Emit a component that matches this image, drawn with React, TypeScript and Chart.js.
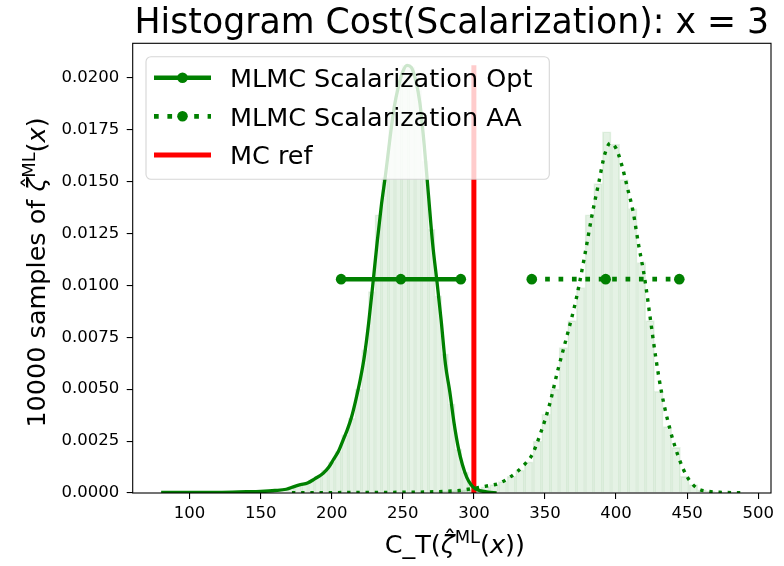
import React, { useEffect, useRef } from "react";
import { Chart, registerables } from "chart.js";

Chart.register(...registerables);

// ---------- data ----------
const TITLE = "Histogram Cost(Scalarization): x = 3";
const LEGEND_LABELS = ["MLMC Scalarization Opt", "MLMC Scalarization AA", "MC ref"];

const X_TICKS = [100, 150, 200, 250, 300, 350, 400, 450, 500];
const Y_TICKS = [0, 0.0025, 0.005, 0.0075, 0.01, 0.0125, 0.015, 0.0175, 0.02];

// Opt histogram (density), 50 bins
const OPT_BIN_START = 80;
const OPT_BIN_WIDTH = 4.7;
const OPT_HIST = [
  0.00002, 0, 0.00002, 0.00002, 0.00002, 0, 0.00002, 0, 0.00002, 0.00002,
  0.00004, 0.00002, 0.00004, 0.00006, 0.00009, 0.00006, 0.00011, 0.00013, 0.00017, 0.0003,
  0.0004, 0.00045, 0.00062, 0.0008, 0.0011, 0.0015, 0.002, 0.0028, 0.0036, 0.005,
  0.0069, 0.0097, 0.0134, 0.0152, 0.0184, 0.0199, 0.0206, 0.0205, 0.0194, 0.016,
  0.0127, 0.0095, 0.0067, 0.0043, 0.0021, 0.001, 0.0005, 0.0002, 0.00006, 0.00002,
];

// AA histogram (density), 50 bins
const AA_BIN_START = 183;
const AA_BIN_WIDTH = 6.1;
const AA_HIST = [
  0.00002, 0, 0.00002, 0, 0.00002, 0.00002, 0, 0.00002, 0.00002, 0.00003,
  0.00003, 0.00005, 0.00003, 0.00005, 0.00006, 0.00008, 0.0001, 0.00013, 0.00016, 0.0002,
  0.0003, 0.0004, 0.00055, 0.0008, 0.0011, 0.0015, 0.0025, 0.0038, 0.005, 0.007,
  0.0083, 0.0099, 0.0134, 0.0149, 0.0174, 0.0168, 0.0151, 0.0137, 0.0111, 0.0083,
  0.0049, 0.0032, 0.0022, 0.0008, 0.0004, 0.00015, 0.00008, 0.00004, 0.00002, 0.00002,
];

// KDE curves
const OPT_KDE_X = [80, 100, 120, 140, 150, 160, 168, 174, 178, 183, 188, 194, 198, 201, 205, 208, 211, 214, 217, 220, 223, 226, 229, 232, 235, 238, 241, 244, 247, 250, 253, 256, 259, 262, 265, 268, 271, 274, 277, 280, 283, 286, 289, 292, 295, 298, 301, 305, 310, 316];
const OPT_KDE_Y = [0.00003, 0.00003, 0.00003, 0.00006, 0.00008, 0.00012, 0.00018, 0.00032, 0.0004, 0.00048, 0.00068, 0.00095, 0.00125, 0.00159, 0.00205, 0.00255, 0.00305, 0.00367, 0.0045, 0.00544, 0.0066, 0.0082, 0.0101, 0.0121, 0.0139, 0.0154, 0.0171, 0.0186, 0.0196, 0.0203, 0.0206, 0.0205, 0.0199, 0.0188, 0.0168, 0.0144, 0.012, 0.0102, 0.0083, 0.0062, 0.0049, 0.0034, 0.0022, 0.00135, 0.00075, 0.0004, 0.0002, 0.0001, 0.00004, 0.00001];

const AA_KDE_X = [172, 200, 230, 260, 280, 290, 296, 302, 310, 318, 325, 330, 336, 341, 347, 353, 359, 366, 372, 378, 383, 388, 392, 396, 400, 404, 408, 412, 416, 420, 424, 428, 432, 438, 444, 450, 457, 465, 475, 489];
const AA_KDE_Y = [0.00002, 0.00002, 0.00003, 0.00004, 0.00008, 0.00012, 0.00018, 0.00025, 0.00035, 0.00047, 0.00075, 0.001, 0.0014, 0.00185, 0.0029, 0.0042, 0.0059, 0.0077, 0.00935, 0.01145, 0.01335, 0.015, 0.0163, 0.01685, 0.0166, 0.0158, 0.0147, 0.01355, 0.0119, 0.0104, 0.00845, 0.0065, 0.00485, 0.00305, 0.00172, 0.00078, 0.00023, 0.00008, 0.00003, 0.00001];

// error bars (low, mean, high) drawn at a fixed height
const OPT_ERR_X = [206.6, 248.6, 290.8];
const AA_ERR_X = [340.7, 392.7, 444.5];
const ERR_Y = 0.0103;

// MC reference
const MC_REF_X = 300;
const MC_REF_TOP = 0.0206;

const X_MIN = 60;
const X_MAX = 509;
const Y_MAX = 0.02166;

// ---------- styling ----------
const GREEN = "#008000";
const FONT = '"DejaVu Sans", "Liberation Sans", sans-serif';
const TICK_SIZE = 16.5;
const LABEL_SIZE = 25.5;
const TITLE_SIZE = 34.7;
const LEGEND_SIZE = 25.5;

type Part = { t: string; italic?: boolean; sup?: boolean; hat?: boolean };

function drawRich(ctx: CanvasRenderingContext2D, parts: Part[], cx: number, baseY: number, size: number) {
  const fontFor = (p: Part) => {
    const s = p.sup ? size * 0.7 : size;
    return `${p.italic ? "italic " : ""}${s}px ${FONT}`;
  };
  let total = 0;
  const widths: number[] = [];
  for (const p of parts) {
    ctx.font = fontFor(p);
    const w = ctx.measureText(p.t).width;
    widths.push(w);
    total += w;
  }
  let x = cx - total / 2;
  ctx.textAlign = "left";
  ctx.textBaseline = "alphabetic";
  parts.forEach((p, i) => {
    ctx.font = fontFor(p);
    const dy = p.sup ? -size * 0.4 : 0;
    ctx.fillText(p.t, x, baseY + dy);
    if (p.hat) {
      ctx.font = `${size}px ${FONT}`;
      const hw = ctx.measureText("\u02C6").width;
      ctx.fillText("\u02C6", x + widths[i] / 2 - hw / 2 + size * 0.08, baseY - size * 0.2);
    }
    x += widths[i];
  });
}

const decorPlugin = {
  id: "decor",
  afterDatasetsDraw(chart: any) {
    const ctx: CanvasRenderingContext2D = chart.ctx;
    const a = chart.chartArea;
    ctx.save();
    // spines
    ctx.strokeStyle = "#000";
    ctx.lineWidth = 1.1;
    ctx.strokeRect(a.left, a.top, a.right - a.left, a.bottom - a.top);

    // legend
    const lx = a.left + 13.3;
    const ly = a.top + 13.4;
    const lw = 403.3;
    const lh = 122.6;
    ctx.beginPath();
    ctx.roundRect(lx, ly, lw, lh, 5);
    ctx.fillStyle = "rgba(255,255,255,0.8)";
    ctx.fill();
    ctx.strokeStyle = "rgba(204,204,204,0.8)";
    ctx.lineWidth = 1.1;
    ctx.stroke();

    const rows = [ly + 21, ly + 59.6, ly + 98.3];
    const hx0 = lx + 8;
    const hx1 = lx + 65;
    const hm = (hx0 + hx1) / 2;
    // row 1
    ctx.strokeStyle = GREEN;
    ctx.lineWidth = 4.5;
    ctx.setLineDash([]);
    ctx.beginPath();
    ctx.moveTo(hx0, rows[0]);
    ctx.lineTo(hx1, rows[0]);
    ctx.stroke();
    ctx.fillStyle = GREEN;
    ctx.beginPath();
    ctx.arc(hm, rows[0], 5.3, 0, Math.PI * 2);
    ctx.fill();
    // row 2
    ctx.lineWidth = 4.7;
    ctx.setLineDash([4.7, 8.7]);
    ctx.beginPath();
    ctx.moveTo(hx0, rows[1]);
    ctx.lineTo(hx1, rows[1]);
    ctx.stroke();
    ctx.setLineDash([]);
    ctx.beginPath();
    ctx.arc(hm, rows[1], 5.3, 0, Math.PI * 2);
    ctx.fill();
    // row 3
    ctx.strokeStyle = "#ff0000";
    ctx.lineWidth = 5;
    ctx.beginPath();
    ctx.moveTo(hx0, rows[2]);
    ctx.lineTo(hx1, rows[2]);
    ctx.stroke();

    ctx.fillStyle = "#000";
    ctx.font = `${LEGEND_SIZE}px ${FONT}`;
    ctx.textAlign = "left";
    ctx.textBaseline = "alphabetic";
    LEGEND_LABELS.forEach((t, i) => ctx.fillText(t, lx + 84, rows[i] + 9.2));
    ctx.restore();
  },
  afterDraw(chart: any) {
    const ctx: CanvasRenderingContext2D = chart.ctx;
    const a = chart.chartArea;
    const cx = (a.left + a.right) / 2;
    ctx.save();
    ctx.fillStyle = "#000";
    // title
    ctx.font = `${TITLE_SIZE}px ${FONT}`;
    ctx.textAlign = "center";
    ctx.textBaseline = "alphabetic";
    ctx.fillText(TITLE, cx, 33);
    // x label
    drawRich(
      ctx,
      [
        { t: "C_T(" },
        { t: "\u03B6", italic: true, hat: true },
        { t: "ML", sup: true },
        { t: "(" },
        { t: "x", italic: true },
        { t: ")" },
        { t: ")" },
      ],
      cx + 3,
      553,
      LABEL_SIZE
    );
    // y label
    ctx.translate(45, 272.5);
    ctx.rotate(-Math.PI / 2);
    drawRich(
      ctx,
      [
        { t: "10000 samples of " },
        { t: "\u03B6", italic: true, hat: true },
        { t: "ML", sup: true },
        { t: "(" },
        { t: "x", italic: true },
        { t: ")" },
      ],
      0,
      0,
      LABEL_SIZE
    );
    ctx.restore();
  },
};

export default function App() {
  const ref = useRef<HTMLCanvasElement | null>(null);

  useEffect(() => {
    if (!ref.current) return;
    const histStyle = {
      type: "bar" as const,
      backgroundColor: "rgba(0,128,0,0.1)",
      borderColor: "rgba(0,128,0,0.1)",
      borderWidth: 1,
      borderSkipped: "start" as const,
      barPercentage: 1,
      categoryPercentage: 1,
      grouped: false,
      order: 10,
    };
    const chart = new Chart(ref.current, {
      type: "line",
      data: {
        datasets: [
          {
            ...histStyle,
            label: "Opt hist",
            xAxisID: "x",
            data: OPT_HIST.map((v, i) => ({ x: OPT_BIN_START + OPT_BIN_WIDTH * (i + 0.5), y: v })),
          } as any,
          {
            ...histStyle,
            label: "AA hist",
            xAxisID: "x2",
            data: AA_HIST.map((v, i) => ({ x: AA_BIN_START + AA_BIN_WIDTH * (i + 0.5), y: v })),
          } as any,
          {
            type: "line",
            label: "MC ref",
            xAxisID: "x",
            data: [
              { x: MC_REF_X, y: 0 },
              { x: MC_REF_X, y: MC_REF_TOP },
            ],
            borderColor: "#ff0000",
            borderWidth: 5,
            pointRadius: 0,
            order: 5,
          },
          {
            type: "line",
            label: "Opt KDE",
            xAxisID: "x",
            data: OPT_KDE_X.map((x, i) => ({ x, y: OPT_KDE_Y[i] })),
            borderColor: GREEN,
            borderWidth: 3.3,
            pointRadius: 0,
            cubicInterpolationMode: "monotone",
            order: 3,
          },
          {
            type: "line",
            label: "AA KDE",
            xAxisID: "x",
            data: AA_KDE_X.map((x, i) => ({ x, y: AA_KDE_Y[i] })),
            borderColor: GREEN,
            borderWidth: 3.4,
            borderDash: [3.4, 5.8],
            borderCapStyle: "butt",
            pointRadius: 0,
            cubicInterpolationMode: "monotone",
            order: 3,
          },
          {
            type: "line",
            label: LEGEND_LABELS[0],
            xAxisID: "x",
            data: OPT_ERR_X.map((x) => ({ x, y: ERR_Y })),
            borderColor: GREEN,
            borderWidth: 4.5,
            pointRadius: 5.3,
            pointBorderWidth: 0,
            pointBackgroundColor: GREEN,
            order: 1,
          },
          {
            type: "line",
            label: LEGEND_LABELS[1],
            xAxisID: "x",
            data: AA_ERR_X.map((x) => ({ x, y: ERR_Y })),
            borderColor: GREEN,
            borderWidth: 4.7,
            borderDash: [4.7, 8.7],
            borderCapStyle: "butt",
            pointRadius: 5.3,
            pointBorderWidth: 0,
            pointBackgroundColor: GREEN,
            order: 1,
          },
        ],
      },
      options: {
        responsive: false,
        animation: false,
        events: [],
        layout: { padding: { left: 0, top: 43.3, right: 13, bottom: 0 } },
        plugins: { legend: { display: false }, tooltip: { enabled: false } },
        scales: {
          x: {
            type: "linear",
            min: X_MIN,
            max: X_MAX,
            offset: false,
            afterFit: (s: any) => {
              s.height = 566 - 493;
            },
            afterBuildTicks: (s: any) => {
              s.ticks = X_TICKS.map((v) => ({ value: v }));
            },
            border: { display: false },
            grid: { display: true, offset: false, drawOnChartArea: false, drawTicks: true, tickLength: 6, color: "#000", lineWidth: 1.1 },
            ticks: { color: "#000", font: { family: FONT, size: TICK_SIZE }, padding: 5, maxRotation: 0, autoSkip: false },
          },
          x2: {
            type: "linear",
            display: false,
            offset: false,
            grid: { offset: false },
            min: X_MIN,
            max: X_MAX,
          },
          y: {
            type: "linear",
            min: 0,
            max: Y_MAX,
            afterFit: (s: any) => {
              s.width = 132.7;
            },
            afterBuildTicks: (s: any) => {
              s.ticks = Y_TICKS.map((v) => ({ value: v }));
            },
            border: { display: false },
            grid: { display: true, drawOnChartArea: false, drawTicks: true, tickLength: 6, color: "#000", lineWidth: 1.1 },
            ticks: {
              color: "#000",
              font: { family: FONT, size: TICK_SIZE },
              padding: 7.5,
              autoSkip: false,
              callback: (v: any) => Number(v).toFixed(4),
            },
          },
        },
      } as any,
      plugins: [decorPlugin],
    });
    return () => chart.destroy();
  }, []);

  return (
    <div style={{ position: "absolute", left: 0, top: 0, width: 784, height: 566, background: "#fff" }}>
      <canvas ref={ref} width={784} height={566} style={{ width: 784, height: 566, display: "block" }} />
    </div>
  );
}
